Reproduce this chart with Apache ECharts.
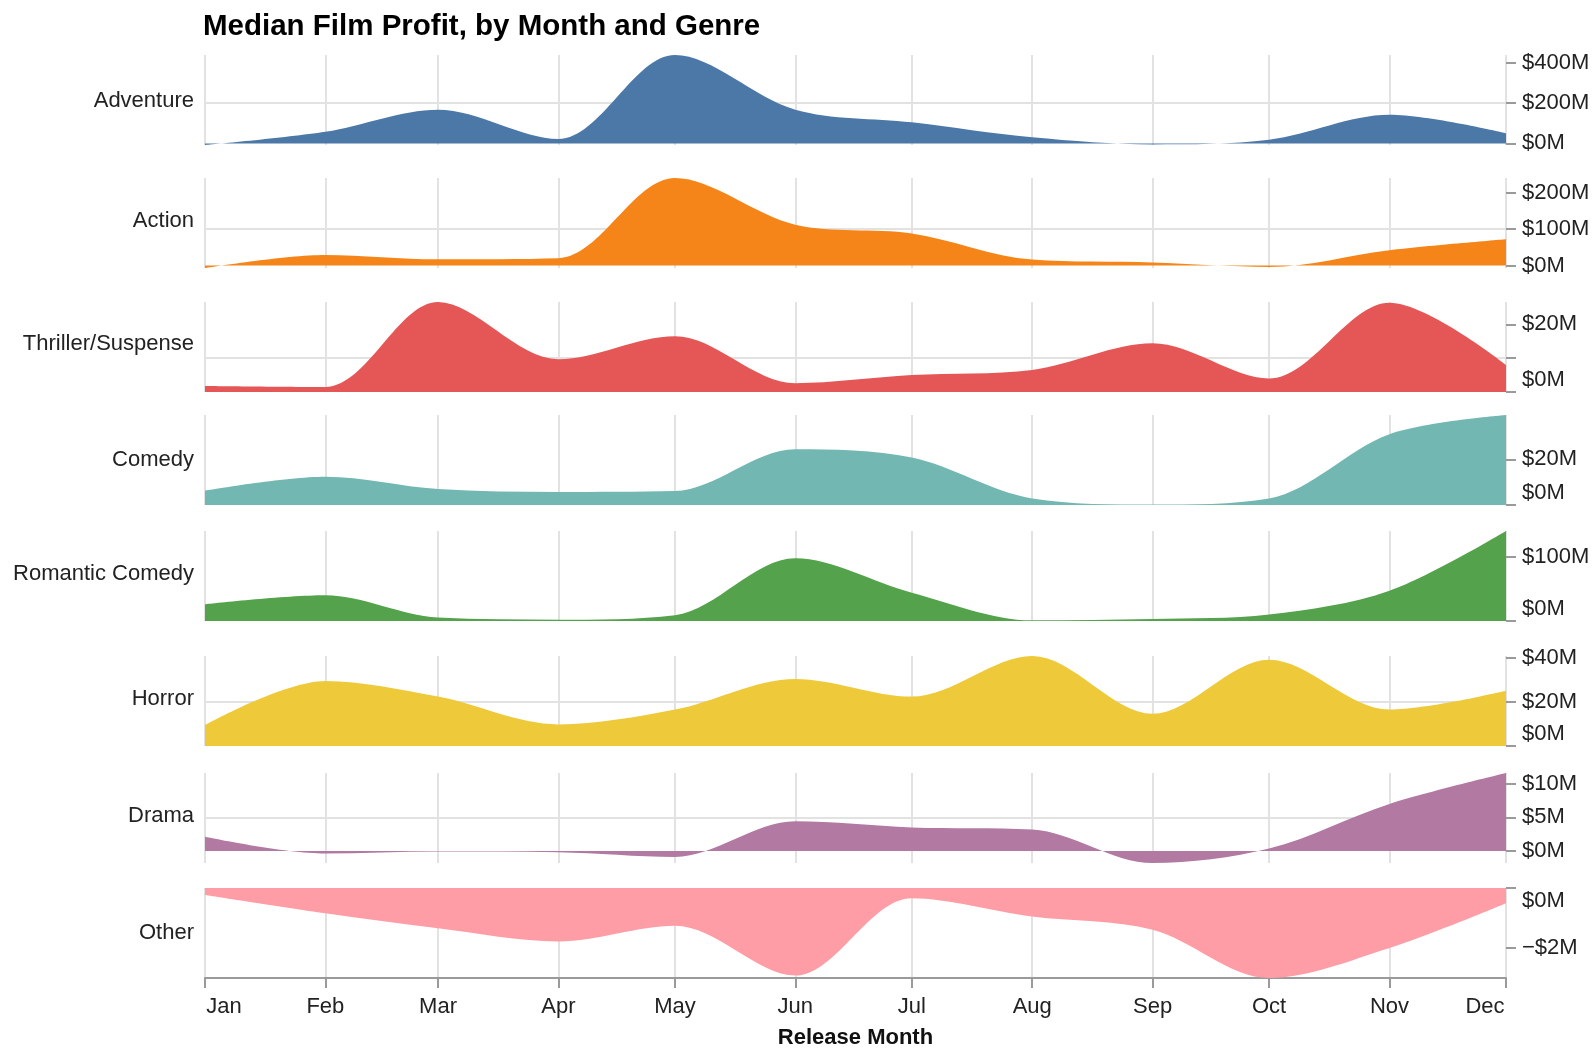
<!DOCTYPE html>
<html>
<head>
<meta charset="utf-8">
<script src="https://cdn.jsdelivr.net/npm/echarts@6.0.0/dist/echarts.min.js"></script>
<style>
  html, body { margin: 0; padding: 0; background: #fff; }
  #chart { width: 1595px; height: 1049px; }
</style>
</head>
<body>
<div id="chart"></div>
<script>
// ---- data ----
var releaseMonths = ['2012-01-01', '2012-02-01', '2012-03-01', '2012-04-01', '2012-05-01', '2012-06-01',
  '2012-07-01', '2012-08-01', '2012-09-01', '2012-10-01', '2012-11-01', '2012-12-01'];
var monthNames = ['Jan', 'Feb', 'Mar', 'Apr', 'May', 'Jun', 'Jul', 'Aug', 'Sep', 'Oct', 'Nov', 'Dec'];
var genres = ['Adventure', 'Action', 'Thriller/Suspense', 'Comedy', 'Romantic Comedy', 'Horror', 'Drama', 'Other'];

// median profit, $M
var adventure = [-8, 58, 168, 22, 440, 168, 105, 30, -5, 18, 142, 50];
var action    = [-7, 29, 17, 20, 240, 112, 88, 16, 8, -4, 42, 72];
var thriller  = [1.8, 1.5, 26.6, 9.7, 16.5, 2.6, 5, 6.5, 14.4, 4, 26.4, 8];
var comedy    = [6.3, 12.4, 7, 5.7, 6.1, 24.4, 20.8, 2.9, 0.2, 2.9, 31, 39.4];
var romcom    = [26, 40, 5.3, 2, 9, 97.5, 44, 1, 3, 10, 47, 140];
var horror    = [9.5, 29.5, 22.4, 9.8, 16.5, 30.4, 22.4, 40.8, 14.6, 39.1, 16.5, 25];
var drama     = [2.1, -0.4, -0.1, -0.2, -0.9, 4.4, 3.5, 3.2, -1.8, 0.35, 7, 11.6];
var other     = [-0.23, -0.84, -1.34, -1.78, -1.26, -2.92, -0.34, -0.95, -1.39, -3.0, -2.0, -0.51];
var seriesValues = [adventure, action, thriller, comedy, romcom, horror, drama, other];

// y tick values and the ones that carry a label
var yTicks = [[0, 200, 400], [0, 100, 200], [0, 10, 20], [0, 20], [0, 100], [0, 20, 40], [0, 5, 10], [-2, 0]];
var yLabels = [[0, 200, 400], [0, 100, 200], [0, 20], [0, 20], [0, 100], [0, 20, 40], [0, 5, 10], [-2, 0]];
var yStep = [200, 100, 10, 20, 100, 20, 5, 2];

var colors = ['#4c78a8', '#f58518', '#e45756', '#72b7b2', '#54a24b', '#eeca3b', '#b279a2', '#ff9da6'];

// ---- layout ----
var rowTops = [55, 178, 302, 415, 531, 656, 773, 888];
var labelShift = [1, -2, -3, 0, -2, -2, -2, 0];
var rowHeight = 90;
var plotLeft = 205;
var plotWidth = 1301;
var font = 'Liberation Sans, Arial, sans-serif';
var gridColor = '#e2e2e2';
var axisColor = '#9a9a9a';

function money(v) {
  return (v < 0 ? '\u2212' : '') + '$' + Math.abs(v) + 'M';
}
function localTime(s) {
  return new Date(s + 'T00:00:00').getTime();
}

var dom = document.getElementById('chart');
var myChart = echarts.init(dom, null, { renderer: 'canvas' });

var grids = [], xAxes = [], yAxes = [], series = [], labels = [];
var DAY = 86400000;

genres.forEach(function (g, i) {
  var isLast = i === genres.length - 1;
  var vals = seriesValues[i];
  var dMin = Math.min.apply(null, vals);
  var dMax = Math.max.apply(null, vals);
  var flushBottom = dMin >= 0;
  var flushTop = dMax <= 0;

  grids.push({
    left: plotLeft, top: rowTops[i], width: plotWidth, height: rowHeight,
    containLabel: false, outerBoundsMode: 'none'
  });

  xAxes.push({
    type: 'time',
    gridIndex: i,
    min: localTime(releaseMonths[0]),
    max: localTime(releaseMonths[releaseMonths.length - 1]),
    splitNumber: 11,
    minInterval: 28 * DAY,
    maxInterval: 31 * DAY,
    axisLine: { show: isLast, onZero: false, lineStyle: { color: axisColor, width: 2 } },
    axisTick: { show: isLast, length: 10, lineStyle: { color: axisColor, width: 2 } },
    axisLabel: {
      show: isLast,
      fontSize: 22,
      fontFamily: font,
      color: '#222',
      margin: 18,
      hideOverlap: false,
      showMinLabel: true,
      showMaxLabel: true,
      formatter: function (v) {
        var m = new Date(v).getMonth();
        if (m === 0) return '{first|' + monthNames[m] + '}';
        if (m === 11) return '{last|' + monthNames[m] + '}';
        return monthNames[m];
      },
      rich: {
        first: { fontSize: 22, fontFamily: font, color: '#222', padding: [0, 0, 0, 38] },
        last: { fontSize: 22, fontFamily: font, color: '#222', padding: [0, 42, 0, 0] }
      }
    },
    splitLine: { show: true, lineStyle: { color: gridColor, width: 2 } },
    name: isLast ? 'Release Month' : '',
    nameLocation: 'middle',
    nameGap: 49,
    nameTextStyle: { fontSize: 22, fontWeight: 'bold', color: '#111', fontFamily: font }
  });

  yAxes.push({
    type: 'value',
    gridIndex: i,
    position: 'right',
    min: function (e) { return Math.min(0, e.min); },
    max: function (e) { return Math.max(0, e.max); },
    minInterval: yStep[i],
    maxInterval: yStep[i],
    axisLine: { show: false },
    axisTick: { show: true, length: 10, customValues: yTicks[i], lineStyle: { color: axisColor, width: 2 } },
    axisLabel: {
      customValues: yLabels[i],
      fontSize: 22,
      fontFamily: font,
      color: '#222',
      margin: 16,
      formatter: function (v) {
        if (v % yStep[i] !== 0) return '';
        var t = money(v);
        if (v === 0 && flushBottom) return '{up|' + t + '}';
        if (v === 0 && flushTop) return '{down|' + t + '}';
        return t;
      },
      rich: {
        up: { fontSize: 22, fontFamily: font, color: '#222', padding: [0, 0, 24, 0] },
        down: { fontSize: 22, fontFamily: font, color: '#222', padding: [26, 0, 0, 0] }
      }
    },
    splitLine: { show: true, showMinLine: false, showMaxLine: false, lineStyle: { color: gridColor, width: 2 } }
  });

  series.push({
    name: g,
    type: 'line',
    xAxisIndex: i,
    yAxisIndex: i,
    data: releaseMonths.map(function (m, j) { return [m, vals[j]]; }),
    smooth: 0.33,
    symbol: 'none',
    silent: true,
    lineStyle: { width: 0, opacity: 0 },
    itemStyle: { color: colors[i] },
    areaStyle: { color: colors[i], opacity: 1 }
  });

  labels.push({
    type: 'text',
    x: 194,
    y: rowTops[i] + rowHeight / 2 + labelShift[i],
    style: { text: g, align: 'right', verticalAlign: 'middle', fontSize: 22, fontFamily: font, fill: '#222' }
  });
});

var option = {
  backgroundColor: '#fff',
  animation: false,
  title: {
    text: 'Median Film Profit, by Month and Genre',
    left: 203,
    top: 12,
    padding: 0,
    textStyle: { fontSize: 29.5, fontWeight: 'bold', color: '#000', fontFamily: font }
  },
  grid: grids,
  xAxis: xAxes,
  yAxis: yAxes,
  series: series,
  graphic: labels
};

myChart.setOption(option);
</script>
</body>
</html>
